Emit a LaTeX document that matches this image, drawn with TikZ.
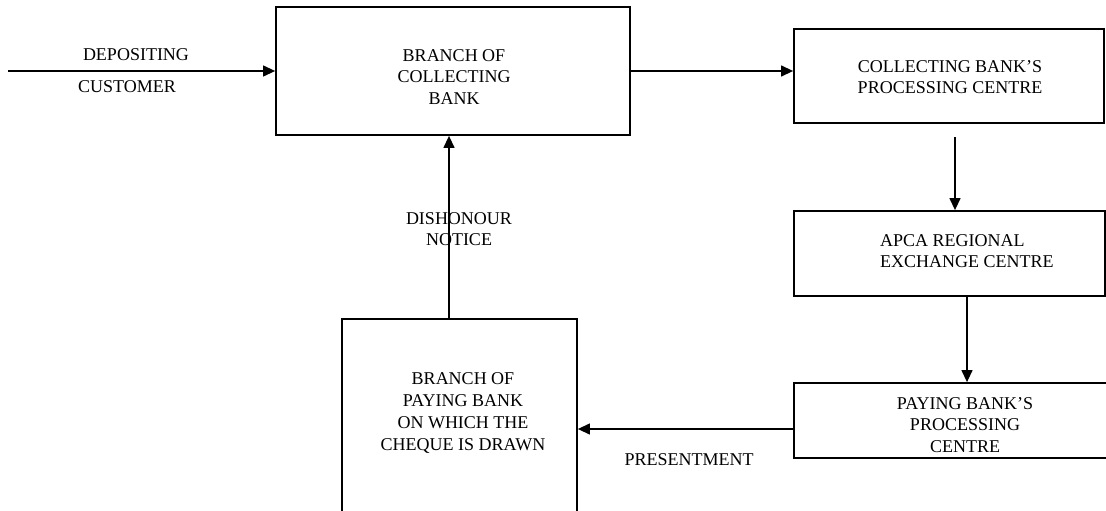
\documentclass[tikz,border=0pt]{standalone}
\usepackage{fontspec}
\setmainfont{Liberation Serif}
\usetikzlibrary{arrows.meta,calc}

\tikzset{
  box/.style={draw=black, line width=1.8pt, inner sep=0pt},
  txt/.style={font=\fontsize{18}{21.7}\selectfont, align=center, inner sep=0pt, text=black},
  flow/.style={line width=1.3pt, -{Triangle[length=12pt,width=11pt]}}
}

\begin{document}
\begin{tikzpicture}[x=1pt, y=-1pt]
\useasboundingbox (0,0) rectangle (1106,511);
\clip (0,0) rectangle (1106,511);

% boxes
\node[box, minimum width=354pt, minimum height=128pt] (collbranch) at (453,71) {};
\node[box, minimum width=310pt, minimum height=94pt]  (collcentre) at (949,76) {};
\node[box, minimum width=311pt, minimum height=85pt]  (apca)       at (949.5,253.5) {};
\node[box, minimum width=336pt, minimum height=75pt]  (paycentre)  at (962,420.5) {};
\node[box, minimum width=235pt, minimum height=201pt] (paybranch)  at (459.5,419.5) {};

% box texts
\node[txt] (collbranch-t) at (454,77) {BRANCH OF\\COLLECTING\\BANK};
\node[txt] (collcentre-t) at (950,77) {COLLECTING BANK’S\\PROCESSING CENTRE};
\node[txt, align=left, anchor=west] (apca-t) at (880,251) {APCA REGIONAL\\EXCHANGE CENTRE};
\node[txt] (paycentre-t) at (965,425) {PAYING BANK’S\\PROCESSING\\CENTRE};
\node[txt] (paybranch-t) at (463,413) {BRANCH OF\\PAYING BANK\\ON WHICH THE\\CHEQUE IS DRAWN};

% connector labels
\node[txt] (lbl-dep)  at (136,55)  {DEPOSITING};
\node[txt] (lbl-cust) at (127,87)  {CUSTOMER};
\node[txt] (lbl-dis)  at (459,229) {DISHONOUR\\NOTICE};
\node[txt] (lbl-pres) at (689,460) {PRESENTMENT};

% free ends
\coordinate (start)  at (8,71);
\coordinate (down1)  at (955,137);
\coordinate (down2)  at (967,296);
\coordinate (left1)  at (794,429);
\coordinate (up1)    at (449,319);

% connectors
\draw[flow] (start) -- (start -| collbranch.west);
\draw[flow] (collbranch.east) -- (collbranch.east -| collcentre.west);
\draw[flow] (down1) -- (down1 |- apca.north);
\draw[flow] (down2) -- (down2 |- paycentre.north);
\draw[flow] (left1) -- (left1 -| paybranch.east);
\draw[flow] (up1) -- (up1 |- collbranch.south);
\end{tikzpicture}
\end{document}
